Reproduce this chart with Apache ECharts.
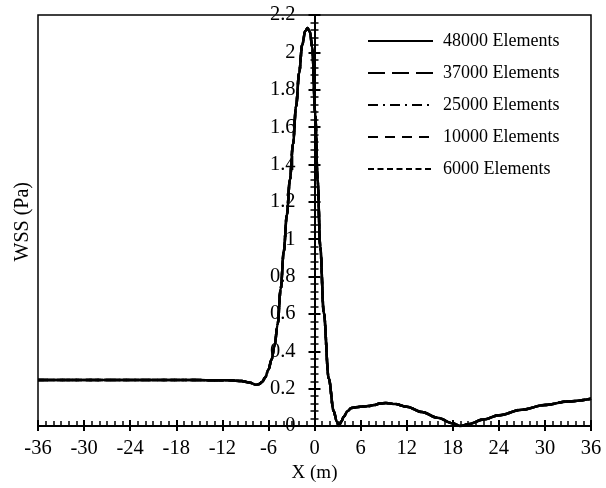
<!DOCTYPE html>
<html>
<head>
<meta charset="utf-8">
<script src="https://cdn.jsdelivr.net/npm/echarts@6/dist/echarts.min.js"></script>
<style>html,body{margin:0;padding:0;background:#fff}#c{width:606px;height:488px}</style>
</head>
<body>
<div id="c"></div>
<script>
var xValues = [-36, -30, -24, -18, -14, -11, -9.5, -8.5, -7.56, -7.2, -6.8, -6.4, -6.0, -5.6, -5.2, -4.8, -4.4, -4.0, -3.6, -3.2, -2.8, -2.4, -2.0, -1.6, -1.2, -0.9, -0.6, -0.3, 0.1, 0.4, 0.75, 1.2, 1.85, 2.5, 2.9, 3.15, 3.5, 3.8, 4.3, 4.8, 6, 7, 7.8, 8.5, 9.3, 10.5, 12, 14, 16, 18, 19, 20, 22, 24, 27, 30, 33, 36];
var wss48000 = [0.247, 0.247, 0.247, 0.247, 0.246, 0.245, 0.241, 0.233, 0.221, 0.225, 0.237, 0.262, 0.302, 0.355, 0.43, 0.545, 0.735, 0.935, 1.13, 1.32, 1.51, 1.71, 1.89, 2.04, 2.115, 2.13, 2.11, 2.03, 1.67, 1.32, 0.96, 0.61, 0.256, 0.08, 0.025, 0.0, 0.025, 0.05, 0.08, 0.097, 0.104, 0.107, 0.113, 0.121, 0.124, 0.118, 0.103, 0.075, 0.045, 0.015, 0.0, 0.01, 0.035, 0.058, 0.088, 0.113, 0.132, 0.146];
// All five meshes overlap exactly in the figure
var wss37000 = wss48000.slice();
var wss25000 = wss48000.slice();
var wss10000 = wss48000.slice();
var wss6000 = wss48000.slice();
var seriesNames = ['48000 Elements', '37000 Elements', '25000 Elements', '10000 Elements', '6000 Elements'];
var seriesValues = [wss48000, wss37000, wss25000, wss10000, wss6000];
var dashTypes = ['solid', [17, 7], [10, 5, 2, 5], [10, 7], [6, 3.5]];

var FONT = 'Liberation Serif';
var chart = echarts.init(document.getElementById('c'), null, {renderer: 'canvas'});

function pairs(ys) { return xValues.map(function (x, i) { return [x, ys[i]]; }); }

var series = seriesNames.map(function (n, i) {
  return {
    name: n, type: 'line', data: pairs(seriesValues[i]),
    xAxisIndex: 0, yAxisIndex: 0,
    showSymbol: false, symbol: 'none', smooth: 0.35, smoothMonotone: 'x',
    lineStyle: {color: '#000', width: 2.5, type: dashTypes[i]},
    itemStyle: {color: '#000'},
    z: 10 - i
  };
});

var GRID_L = 38, GRID_R = 15;
var plotW = 606 - GRID_L - GRID_R;
var yOffset = -plotW * (36 / 72); // y axis crosses at X = 0

var axisCommonX = {type: 'value', min: -36, max: 36, interval: 6, position: 'bottom', gridIndex: 0,
  splitLine: {show: false}, axisLine: {onZero: false, lineStyle: {color: '#000', width: 2}}};
var axisCommonY = {type: 'value', min: 0, max: 2.2, interval: 0.2, position: 'left', gridIndex: 0, offset: yOffset,
  splitLine: {show: false}, axisLine: {onZero: false, lineStyle: {color: '#000', width: 2}}};

chart.setOption({
  animation: false,
  backgroundColor: '#fff',
  textStyle: {fontFamily: FONT},
  grid: {left: GRID_L, right: GRID_R, top: 15, bottom: 58.5, show: true, borderColor: '#000', borderWidth: 1.5, backgroundColor: 'transparent'},
  legend: {
    orient: 'vertical', left: 362, top: 27,
    itemWidth: 65, itemHeight: 14, itemGap: 14,
    itemStyle: {opacity: 0},
    textStyle: {fontFamily: FONT, fontSize: 18, color: '#000', lineHeight: 18, padding: [0, 0, 0, 5]},
    data: seriesNames
  },
  xAxis: [
    Object.assign({}, axisCommonX, {
      axisTick: {show: true, inside: false, length: 5, lineStyle: {color: '#000', width: 2}},
      minorTick: {show: false},
      axisLabel: {show: true, margin: 12, fontFamily: FONT, fontSize: 20.5, color: '#000'},
      name: 'X (m)', nameLocation: 'middle', nameGap: 25,
      nameTextStyle: {fontFamily: FONT, fontSize: 19, color: '#000'}
    }),
    Object.assign({}, axisCommonX, {
      axisTick: {show: true, inside: true, length: 6, lineStyle: {color: '#000', width: 2}},
      minorTick: {show: true, splitNumber: 6, length: 5, lineStyle: {color: '#000', width: 1.5}},
      axisLabel: {show: false}
    })
  ],
  yAxis: [
    Object.assign({}, axisCommonY, {
      axisTick: {show: true, inside: false, length: 6, lineStyle: {color: '#000', width: 2}},
      minorTick: {show: true, splitNumber: 5, length: 4, lineStyle: {color: '#000', width: 1.5}},
      axisLabel: {show: true, margin: 19, fontFamily: FONT, fontSize: 20.5, color: '#000'}
    }),
    Object.assign({}, axisCommonY, {
      axisTick: {show: true, inside: true, length: 6, lineStyle: {color: '#000', width: 2}},
      minorTick: {show: true, splitNumber: 5, length: 4, lineStyle: {color: '#000', width: 1.5}},
      axisLabel: {show: false}
    })
  ],
  graphic: [{
    type: 'text', left: 13, top: 182, rotation: Math.PI / 2,
    style: {text: 'WSS (Pa)', fontFamily: FONT, fontSize: 20, fill: '#000'}
  }],
  series: series
});
</script>
</body>
</html>
